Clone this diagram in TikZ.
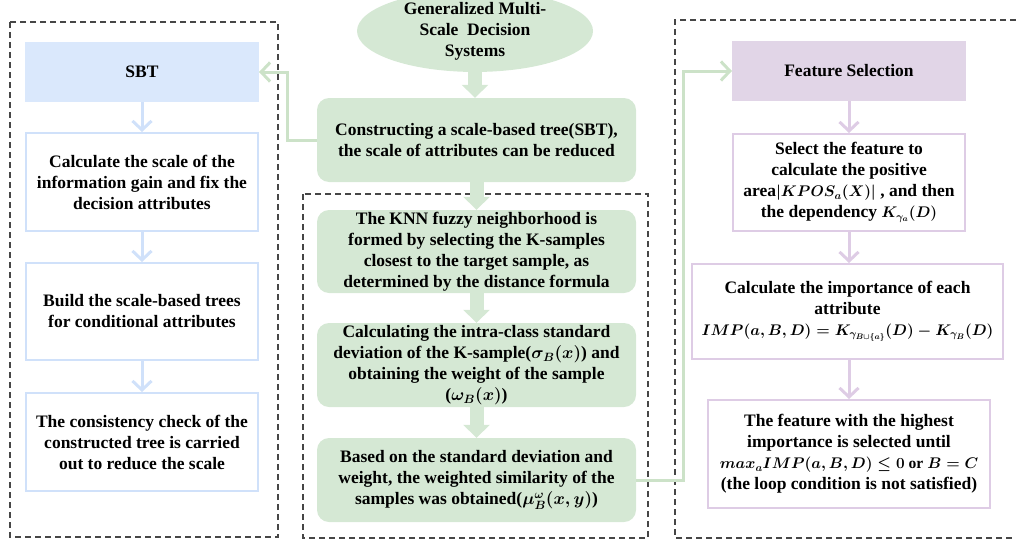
\documentclass[tikz,border=0pt]{standalone}
\usepackage{amsmath,amssymb}
\usepackage{graphicx}
\usepackage{fontspec}
\setmainfont{Liberation Serif}
\usetikzlibrary{arrows.meta, positioning, shapes.geometric}
\definecolor{greenfill}{RGB}{213, 232, 212}
\definecolor{greenline}{RGB}{204, 226, 200}
\definecolor{bluefill}{RGB}{218, 232, 252}
\definecolor{blueline}{RGB}{208, 225, 250}
\definecolor{purplefill}{RGB}{225, 213, 231}
\definecolor{purpleline}{RGB}{222, 204, 229}
\definecolor{framegray}{RGB}{70, 70, 70}
\newcommand{\smallmath}[1]{\scalebox{0.89}{#1}}

\begin{document}
\begin{tikzpicture}[
	x=1pt, y=-1pt,
	font=\bfseries\boldmath\fontsize{17.5}{21}\selectfont,
	% Styles for the boxes
	greenbox/.style={fill=greenfill, rounded corners=12pt, align=center, minimum width=319pt, minimum height=84pt, inner sep=0pt},
	greenellipse/.style={ellipse, fill=greenfill, align=center, minimum width=236pt, minimum height=70pt, inner sep=0pt},
	bluetitle/.style={fill=bluefill, draw=bluefill, line width=2pt, minimum width=232pt, minimum height=58pt, inner sep=0pt},
	bluebox/.style={fill=white, draw=blueline, line width=2pt, align=center, minimum width=232pt, minimum height=98pt, inner sep=0pt},
	purpletitle/.style={fill=purplefill, draw=purplefill, line width=2pt, minimum width=232pt, minimum height=58pt, inner sep=0pt},
	purplebox/.style={fill=white, draw=purpleline, line width=2pt, align=center, minimum width=232pt, minimum height=97pt, inner sep=0pt},
	% Styles for frames and connectors
	groupframe/.style={draw=framegray, line width=1.1pt, dash pattern=on 6pt off 4pt},
	blockarrow/.style={draw=greenfill, line width=14pt, -{Triangle[length=13pt, width=26pt]}},
	bluearrow/.style={draw=blueline, line width=3pt, -{Straight Barb[length=9pt, width=19pt]}},
	purplearrow/.style={draw=purpleline, line width=3pt, -{Straight Barb[length=9pt, width=19pt]}},
	greenlink/.style={draw=greenline, line width=3pt, -{Straight Barb[length=9pt, width=19pt]}}
	]
	\useasboundingbox (0,0) rectangle (1016,543);
	
	% ==========================================
	% DASHED FRAMES
	% ==========================================
	\draw[groupframe] (10,22) rectangle (278,537);
	\draw[groupframe] (303,194) rectangle (648,538);
	\draw[groupframe] (1016,20) -| (675,538) -- (1016,538);
	
	% ==========================================
	% LEFT COLUMN (SBT)
	% ==========================================
	\node[bluetitle] (sbt) at (142,72) {SBT};
	\node[bluebox] (infogain) at (142,182) {Calculate the scale of the\\information gain and fix the\\decision attributes};
	\node[bluebox, minimum height=97pt] (buildtree) at (142,311.5) {Build the scale-based trees\\for conditional attributes};
	\node[bluebox] (consist) at (142,442) {The consistency check of the\\constructed tree is carried\\out to reduce the scale};
	
	\draw[bluearrow] (sbt) -- (infogain);
	\draw[bluearrow] (infogain) -- (buildtree);
	\draw[bluearrow] (buildtree) -- (consist);
	
	% ==========================================
	% MIDDLE COLUMN
	% ==========================================
	\node[greenellipse] (gmds) at (475,31) {Generalized Multi-\\Scale~~Decision\\Systems};
	\node[greenbox] (sbtree) at (476.5,140) {Constructing a scale-based tree(SBT),\\the scale of attributes can be reduced};
	\node[greenbox, minimum height=83pt] (knn) at (476.5,251.5) {The KNN fuzzy neighborhood is\\formed by selecting the K-samples\\closest to the target sample, as\\determined by the distance formula};
	\node[greenbox] (stddev) at (476.5,365) {Calculating the intra-class standard\\deviation of the K-sample($\sigma_B(x)$) and\\obtaining the weight of the sample\\($\omega_B(x)$)};
	\node[greenbox] (wsim) at (476.5,480) {Based on the standard deviation and\\weight, the weighted similarity of the\\samples was obtained($\mu_B^{\omega}(x,y)$)};
	
	\draw[blockarrow] (gmds.south) -- (gmds.south |- sbtree.north);
	\draw[blockarrow] (sbtree) -- (knn);
	\draw[blockarrow] (knn) -- (stddev);
	\draw[blockarrow] (stddev) -- (wsim);
	
	% ==========================================
	% RIGHT COLUMN (FEATURE SELECTION)
	% ==========================================
	\node[purpletitle] (fs) at (849,71) {Feature Selection};
	\node[purplebox] (posarea) at (849,182.5) {Select the feature to\\calculate the positive\\area\smallmath{$|KPOS_a(X)|$} , and then\\the dependency \smallmath{$K_{\gamma_a}(D)$}};
	\node[purplebox, minimum width=311pt, minimum height=95pt] (imp) at (847.5,311.5) {Calculate the importance of each\\attribute\\\smallmath{$IMP(a,B,D)=K_{\gamma_{B\cup\{a\}}}(D)-K_{\gamma_B}(D)$}};
	\node[purplebox, minimum width=282pt, minimum height=108pt] (maximp) at (849,454) {The feature with the highest\\importance is selected until\\\smallmath{$max_aIMP(a,B,D)\le 0$ or $B=C$}\\(the loop condition is not satisfied)};
	
	\draw[purplearrow] (fs) -- (posarea);
	\draw[purplearrow] (posarea.south) -- (posarea.south |- imp.north);
	\draw[purplearrow] (imp.south -| maximp.north) -- (maximp.north);
	
	% Links between the columns
	\draw[greenlink] (sbtree.west) -- ++(-29,0) |- (sbt.east);
	\draw[greenlink] (wsim.east) -- ++(47,0) |- (fs.west);
	
\end{tikzpicture}
\end{document}
